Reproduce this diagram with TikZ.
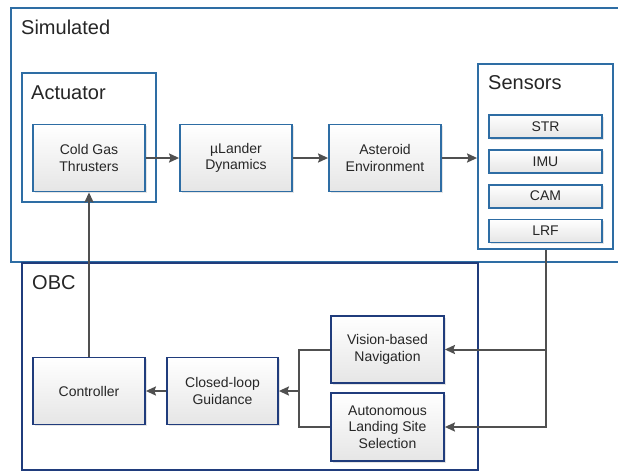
\documentclass[tikz,border=0pt]{standalone}
\usepackage{fontspec}
\setmainfont{Liberation Sans}
\usetikzlibrary{positioning}
\usetikzlibrary{arrows.meta,shadows}

\definecolor{simblue}{HTML}{2E6DA4}
\definecolor{obcblue}{HTML}{203C7C}
\definecolor{wirecol}{HTML}{505050}

\tikzset{
  block/.style={draw=simblue, line width=1.8pt, top color=white, bottom color=black!10,
    minimum width=112pt, minimum height=67pt, align=center, text=black!85,
    font=\fontsize{14}{16.5}\selectfont,
    drop shadow={opacity=0.2, shadow xshift=1.5pt, shadow yshift=-1.5pt}},
  obcblock/.style={block, draw=obcblue},
  sensor/.style={block, minimum width=113pt, minimum height=23pt, inner sep=0pt},
  frame/.style={draw=simblue, line width=1.8pt, fill=white},
  title/.style={anchor=base west, inner sep=0pt, text=black!85, font=\fontsize{20}{24}\selectfont},
  wire/.style={draw=wirecol, line width=2pt},
  arrow/.style={wire, -{Stealth[length=10pt, width=9pt, inset=1.5pt]}},
}

\begin{document}
\begin{tikzpicture}[x=1pt, y=-1pt]
  \useasboundingbox (0,0) rectangle (618,471);
  \clip (0,0) rectangle (618,471);

  % simulated part (runs off to the right)
  \draw[frame] (630,8) rectangle (11,262);
  \node[title] (simtitle) at (21,34) {Simulated};

  \node[frame, minimum width=134pt, minimum height=129pt] (act) at (89,137.5) {};
  \node[title] (acttitle) at (31,99) {Actuator};

  \node[frame, minimum width=135pt, minimum height=185pt] (sens) at (545.5,156.5) {};
  \node[title] (senstitle) at (488,89) {Sensors};

  \node[block] (thr) at (89,158) {Cold Gas\\Thrusters};
  \node[block] (dyn) at (236,158) {µLander\\Dynamics};
  \node[block] (env) at (385,158) {Asteroid\\Environment};

  \node[sensor] (str) at (545.5,126.5) {STR};
  \node[sensor, below=10pt of str] (imu) {IMU};
  \node[sensor, below=10pt of imu] (cam) {CAM};
  \node[sensor, below=10pt of cam] (lrf) {LRF};

  % on-board computer
  \draw[frame, draw=obcblue] (22,263) rectangle (478,470);
  \node[title] (obctitle) at (32,289) {OBC};

  \node[obcblock] (ctrl) at (89,391) {Controller};
  \node[obcblock, minimum width=111pt] (gui) at (222.5,391) {Closed-loop\\Guidance};
  \node[obcblock, minimum width=113pt] (nav) at (387.5,349.5) {Vision-based\\Navigation};
  \node[obcblock, minimum width=113pt, minimum height=68pt] (lss) at (387.5,427) {Autonomous\\Landing Site\\Selection};

  \coordinate (merge) at (299,391);

  % signal flow
  \draw[arrow] (thr) -- (dyn);
  \draw[arrow] (dyn) -- (env);
  \draw[arrow] (env.east) -- (env.east -| sens.west);
  \draw[arrow] (sens.south) |- (lss.east);
  \draw[arrow] (sens.south |- nav.east) -- (nav.east);
  \draw[wire] (nav.west) -| (merge);
  \draw[wire] (lss.west) -| (merge);
  \draw[arrow] (merge) -- (gui.east);
  \draw[arrow] (gui) -- (ctrl);
  \draw[arrow] (ctrl) -- (thr);
\end{tikzpicture}
\end{document}
